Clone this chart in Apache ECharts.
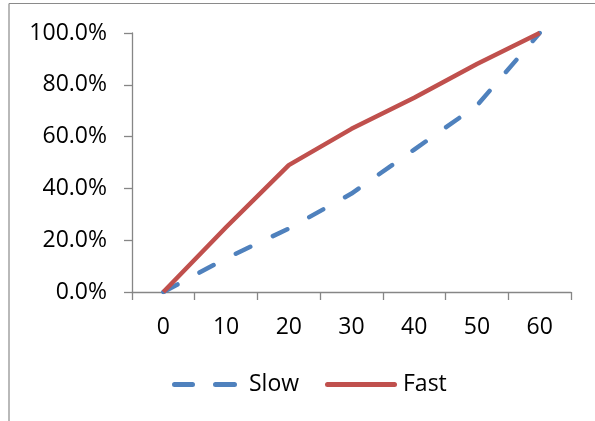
<!DOCTYPE html>
<html>
<head>
<meta charset="utf-8">
<script src="https://cdn.jsdelivr.net/npm/echarts@6/dist/echarts.min.js"></script>
<style>
  html, body { margin: 0; padding: 0; background: #ffffff; }
  #chart { width: 595px; height: 421px; }
</style>
</head>
<body>
<div id="chart"></div>
<script>
const categories = ['0', '10', '20', '30', '40', '50', '60'];
const slowValues = [0, 0.13, 0.245, 0.38, 0.55, 0.72, 1.0];
const fastValues = [0, 0.25, 0.49, 0.63, 0.75, 0.88, 1.0];
const yTicks = [0, 0.2, 0.4, 0.6, 0.8, 1.0];

const FONT = '"Open Sans", "Liberation Sans", sans-serif';
const AXIS_GRAY = '#868686';
const SLOW_COLOR = '#4F81BD';
const FAST_COLOR = '#C0504D';

// legend icons (shapes only, scaled by the legend to itemWidth x itemHeight)
const slowIcon = 'path://M2.5,0H20.5A2.5,2.5 0 0 1 20.5,5H2.5A2.5,2.5 0 0 1 2.5,0Z M43.5,0H62.5A2.5,2.5 0 0 1 62.5,5H43.5A2.5,2.5 0 0 1 43.5,0Z';
const fastIcon = 'path://M2.5,0H69.5A2.5,2.5 0 0 1 69.5,5H2.5A2.5,2.5 0 0 1 2.5,0Z';

const chart = echarts.init(document.getElementById('chart'), null, { renderer: 'canvas' });

chart.setOption({
  animation: false,
  backgroundColor: '#ffffff',
  textStyle: { fontFamily: FONT },
  grid: { left: 132, right: 24, top: 33, bottom: 129, containLabel: false },
  xAxis: {
    type: 'category',
    data: categories,
    boundaryGap: true,
    axisLine: { show: true, lineStyle: { color: AXIS_GRAY, width: 1.3 } },
    axisTick: { show: true, length: 8, lineStyle: { color: AXIS_GRAY, width: 1.3 } },
    axisLabel: { color: '#000000', fontSize: 23, fontFamily: FONT, margin: 24 },
    splitLine: { show: false }
  },
  yAxis: {
    type: 'value',
    min: yTicks[0],
    max: yTicks[yTicks.length - 1],
    interval: 0.2,
    axisLine: { show: true, lineStyle: { color: AXIS_GRAY, width: 1.3 } },
    axisTick: { show: true, length: 8, lineStyle: { color: AXIS_GRAY, width: 1.3 } },
    axisLabel: {
      color: '#000000', fontSize: 23, fontFamily: FONT, margin: 25,
      formatter: v => (v * 100).toFixed(1) + '%'
    },
    splitLine: { show: false }
  },
  legend: [
    {
      left: 172,
      top: 373,
      itemWidth: 65,
      itemHeight: 5,
      padding: 0,
      textStyle: { fontSize: 23, fontFamily: FONT, color: '#000000', padding: [0, 0, 0, 7] },
      data: [{ name: 'Slow', icon: slowIcon, itemStyle: { color: SLOW_COLOR } }]
    },
    {
      left: 325,
      top: 373,
      itemWidth: 72,
      itemHeight: 5,
      padding: 0,
      textStyle: { fontSize: 23, fontFamily: FONT, color: '#000000', padding: [0, 0, 0, 1] },
      data: [{ name: 'Fast', icon: fastIcon, itemStyle: { color: FAST_COLOR } }]
    }
  ],
  series: [
    {
      name: 'Slow',
      type: 'line',
      data: slowValues,
      symbol: 'none',
      showSymbol: false,
      itemStyle: { color: SLOW_COLOR },
      lineStyle: { color: SLOW_COLOR, width: 4.5, type: [16, 25], cap: 'round', join: 'round' },
      z: 2
    },
    {
      name: 'Fast',
      type: 'line',
      data: fastValues,
      symbol: 'none',
      showSymbol: false,
      itemStyle: { color: FAST_COLOR },
      lineStyle: { color: FAST_COLOR, width: 4.5, type: 'solid', cap: 'butt', join: 'round' },
      z: 3
    }
  ],
  graphic: [
    {
      type: 'line',
      shape: { x1: 9, y1: 3.5, x2: 595, y2: 3.5 },
      style: { stroke: '#8a8a8a', lineWidth: 1.2 },
      silent: true
    },
    {
      type: 'line',
      shape: { x1: 9, y1: 3.5, x2: 9, y2: 421 },
      style: { stroke: '#8a8a8a', lineWidth: 1.2 },
      silent: true
    }
  ]
});
</script>
</body>
</html>
